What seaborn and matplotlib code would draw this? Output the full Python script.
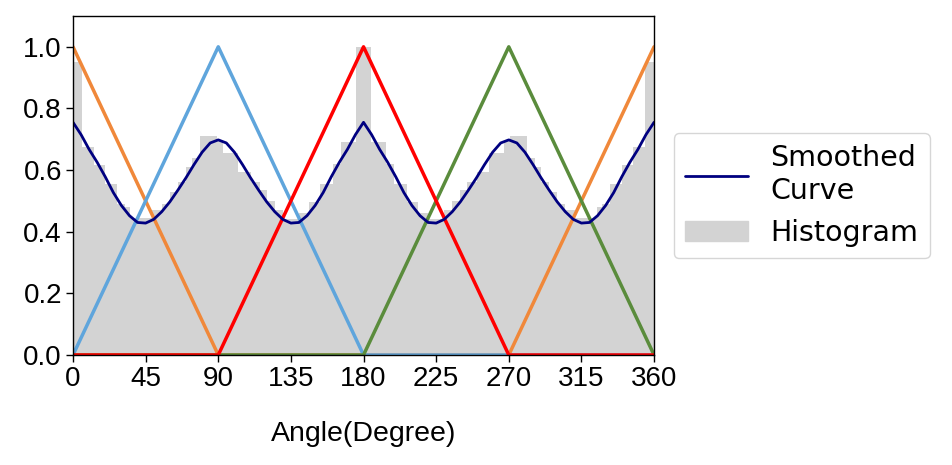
import numpy as np
import pandas as pd
import seaborn as sns
import matplotlib.pyplot as plt
from matplotlib.patches import Patch
from matplotlib.lines import Line2D

# histogram bins (degrees) and normalised heights
bin_edges = [0, 5.6, 12.8, 20.0, 27.3, 32.4, 35.3, 48.8, 55.0, 60.0, 65.0, 70.0, 73.5, 78.7,
             89.0, 93.0, 102.0, 110.0, 116.0, 120.0, 125.0, 130.0, 140.0, 146.0, 153.0, 161.0,
             166.0, 175.3, 180.0, 184.7, 194.0, 199.0, 207.0, 214.0, 220.0, 230.0, 235.0, 240.0,
             244.0, 250.0, 258.0, 267.0, 271.0, 281.3, 286.5, 290.0, 295.0, 300.0, 305.0, 311.2,
             324.7, 327.6, 332.7, 340.0, 347.2, 354.4, 360.0]
bin_heights = [0.95, 0.675, 0.615, 0.555, 0.49, 0.48, 0.445, 0.47, 0.49, 0.53, 0.56, 0.61, 0.64,
               0.71, 0.695, 0.655, 0.595, 0.56, 0.535, 0.50, 0.47, 0.442, 0.46, 0.496, 0.555, 0.62,
               0.69, 1.0, 1.0, 0.69, 0.62, 0.555, 0.496, 0.46, 0.442, 0.47, 0.50, 0.535, 0.56,
               0.595, 0.655, 0.695, 0.71, 0.64, 0.61, 0.56, 0.53, 0.49, 0.47, 0.445, 0.48, 0.49,
               0.555, 0.615, 0.675, 0.95]

# smoothed curve, every 5 degrees
curve_x = list(range(0, 361, 5))
curve_y = [0.755, 0.715, 0.667, 0.625, 0.578, 0.527, 0.485, 0.452, 0.430, 0.428, 0.440, 0.465,
           0.497, 0.535, 0.575, 0.618, 0.658, 0.688, 0.698, 0.688, 0.658, 0.618, 0.575, 0.535,
           0.497, 0.465, 0.440, 0.428, 0.430, 0.452, 0.485, 0.527, 0.578, 0.625, 0.667, 0.715,
           0.755,
           0.715, 0.667, 0.625, 0.578, 0.527, 0.485, 0.452, 0.430, 0.428, 0.440, 0.465, 0.497,
           0.535, 0.575, 0.618, 0.658, 0.688, 0.698, 0.688, 0.658, 0.618, 0.575, 0.535, 0.497,
           0.465, 0.440, 0.428, 0.430, 0.452, 0.485, 0.527, 0.578, 0.625, 0.667, 0.715, 0.755]

# triangular memberships
tri_x = [0, 90, 180, 270, 360]
tri_0 = [1, 0, 0, 0, 1]
tri_90 = [0, 1, 0, 0, 0]
tri_270 = [0, 0, 0, 1, 0]
tri_180 = [0, 0, 1, 0, 0]

sns.set_style('ticks', {'axes.edgecolor': 'black', 'xtick.color': 'black',
                        'ytick.color': 'black', 'text.color': 'black',
                        'axes.labelcolor': 'black'})
plt.rcParams['font.family'] = ['Liberation Sans', 'DejaVu Sans']

fig = plt.figure(figsize=(9.53, 4.65), dpi=100)
ax = fig.add_axes([0.0766, 0.2366, 0.6097, 0.729])

centers = [(a + b) / 2 for a, b in zip(bin_edges[:-1], bin_edges[1:])]
hist_df = pd.DataFrame({'angle': centers, 'h': bin_heights})
sns.histplot(data=hist_df, x='angle', weights='h', bins=bin_edges, color='lightgray',
             alpha=1, linewidth=0, ax=ax)

lw = 2.5
for ys, col in [(tri_0, '#f0883a'), (tri_90, '#5fa5dc'), (tri_270, '#5a8c3c'), (tri_180, 'red')]:
    sns.lineplot(x=tri_x, y=ys, color=col, lw=lw, ax=ax, estimator=None, sort=False)

sns.lineplot(x=curve_x, y=curve_y, color='navy', lw=2.0, ax=ax, estimator=None, sort=False)

ax.set_xlim(0, 360)
ax.set_ylim(0, 1.1)
ax.set_xticks(range(0, 361, 45))
ax.set_yticks(np.arange(0, 1.01, 0.2))
ax.set_yticklabels([f'{v:.1f}' for v in np.arange(0, 1.01, 0.2)])
ax.tick_params(labelsize=20, length=5, width=1, pad=3)
ax.set_ylabel('')
ax.set_xlabel('Angle(Degree)', fontsize=20.5, labelpad=21, color='black')
for s in ax.spines.values():
    s.set_linewidth(1.0)
    s.set_color('black')

handles = [Line2D([0], [0], color='navy', lw=2.0), Patch(color='lightgray')]
leg = ax.legend(handles, ['Smoothed\nCurve', 'Histogram'], loc='center left',
                bbox_to_anchor=(1.034, 0.47), borderaxespad=0, handlelength=2.2,
                prop={'family': 'DejaVu Sans', 'size': 20.5}, frameon=True)

fig.savefig('out.png', dpi=100)
